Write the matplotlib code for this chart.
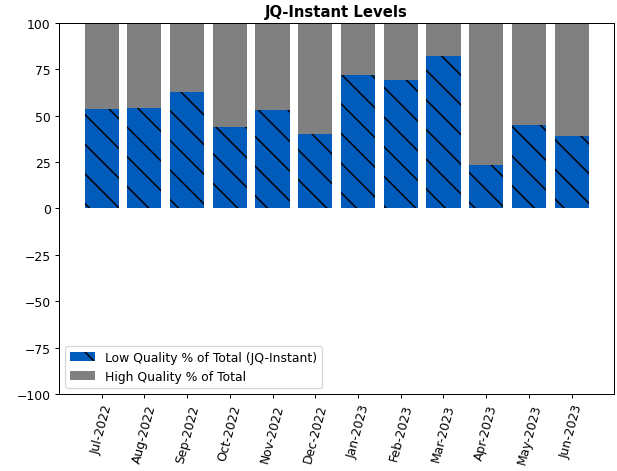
import numpy as np
import matplotlib
matplotlib.use("Agg")
import matplotlib.pyplot as plt

months = ["Jul-2022", "Aug-2022", "Sep-2022", "Oct-2022", "Nov-2022", "Dec-2022",
          "Jan-2023", "Feb-2023", "Mar-2023", "Apr-2023", "May-2023", "Jun-2023"]
low_quality = [53.6, 54.0, 62.6, 43.7, 52.9, 39.9, 72.1, 69.2, 82.2, 23.2, 45.1, 39.0]
high_quality = [100 - v for v in low_quality]

# reference looks like a default matplotlib figure at roughly 89 dpi
DPI = 89
plt.rcParams["hatch.linewidth"] = 1.2

fig = plt.figure(figsize=(617 / DPI, 472 / DPI), dpi=DPI)
ax = fig.add_axes([0.0961, 0.1631, 0.8990, 0.7861])

x = np.arange(len(months))
ax.bar(x, low_quality, width=0.8, color="#005bbb", hatch="\\",
       label="Low Quality % of Total (JQ-Instant)")
ax.bar(x, high_quality, width=0.8, bottom=low_quality, color="#808080",
       label="High Quality % of Total")

ax.set_ylim(-100, 100)
ax.set_yticks([-100, -75, -50, -25, 0, 25, 50, 75, 100])
ax.set_xticks(x)
ax.set_xticklabels(months, rotation=75)
ax.set_title("JQ-Instant Levels", fontweight="bold")
ax.legend(loc="lower left")

fig.savefig("out.png", dpi=DPI)
